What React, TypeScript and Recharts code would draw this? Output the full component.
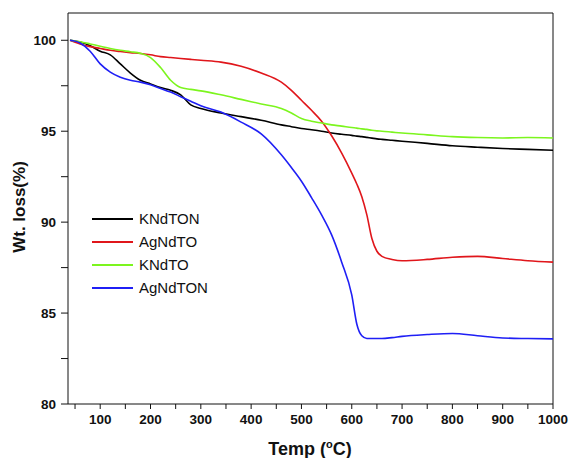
import { LineChart, Line, XAxis, YAxis, ReferenceLine } from "recharts";

// temperature in °C
const temps = [
  40, 60, 80, 100, 120, 140, 160, 180, 200, 220, 240, 260, 280, 300, 340, 380,
  420, 460, 480, 500, 520, 540, 560, 580, 600, 610, 620, 630, 640, 650, 660,
  680, 700, 750, 800, 850, 900, 950, 1000,
];

const kndton = [
  100, 99.9, 99.7, 99.4, 99.2, 98.7, 98.2, 97.8, 97.6, 97.4, 97.25, 97.0, 96.45,
  96.25, 96.0, 95.8, 95.6, 95.35, 95.25, 95.15, 95.08, 95.0, 94.9, 94.83, 94.77,
  94.73, 94.7, 94.66, 94.62, 94.58, 94.55, 94.5, 94.45, 94.33, 94.2, 94.12,
  94.05, 94.0, 93.95,
];

const agndto = [
  100, 99.8, 99.65, 99.55, 99.45, 99.38, 99.32, 99.27, 99.2, 99.1, 99.05, 99.0,
  98.95, 98.9, 98.8, 98.57, 98.2, 97.7, 97.25, 96.7, 96.15, 95.55, 94.75, 93.8,
  92.7, 92.1, 91.4, 90.4, 89.1, 88.4, 88.12, 87.95, 87.88, 87.95, 88.07, 88.12,
  88.0, 87.88, 87.8,
];

const kndto = [
  100, 99.92, 99.8, 99.67, 99.55, 99.45, 99.37, 99.28, 99.05, 98.5, 97.8, 97.4,
  97.3, 97.22, 97.0, 96.75, 96.5, 96.25, 96.0, 95.7, 95.55, 95.45, 95.35, 95.28,
  95.2, 95.17, 95.13, 95.1, 95.05, 95.02, 95.0, 94.95, 94.9, 94.8, 94.7, 94.65,
  94.63, 94.65, 94.63,
];

const agndton = [
  100, 99.85, 99.4, 98.7, 98.25, 97.97, 97.8, 97.7, 97.55, 97.35, 97.15, 96.9,
  96.65, 96.4, 96.05, 95.5, 94.85, 93.7, 93.0, 92.25, 91.35, 90.4, 89.3, 87.8,
  86.0, 84.4, 83.75, 83.6, 83.6, 83.6, 83.6, 83.65, 83.72, 83.82, 83.88, 83.75,
  83.63, 83.6, 83.58,
];

const xTicks = [
  50, 100, 150, 200, 250, 300, 350, 400, 450, 500, 550, 600, 650, 700, 750, 800,
  850, 900, 950, 1000,
];
const yTicks = [80, 82.5, 85, 87.5, 90, 92.5, 95, 97.5, 100];

const series = [
  { key: "kndton", name: "KNdTON", color: "#000000" },
  { key: "agndto", name: "AgNdTO", color: "#e0161b" },
  { key: "kndto", name: "KNdTO", color: "#7cf51e" },
  { key: "agndton", name: "AgNdTON", color: "#1f1ff5" },
];

const data = temps.map((t, i) => ({
  temp: t,
  kndton: kndton[i],
  agndto: agndto[i],
  kndto: kndto[i],
  agndton: agndton[i],
}));

const font = "'Liberation Sans', Arial, sans-serif";

function XTick(props: any) {
  const { x, y, payload } = props;
  if (payload.value % 100 !== 0) return null;
  return (
    <text x={x} y={y} dy={11} textAnchor="middle" fontFamily={font} fontSize={13.5} fontWeight="bold" fill="#111">
      {payload.value}
    </text>
  );
}

function YTick(props: any) {
  const { x, y, payload } = props;
  if (payload.value % 5 !== 0) return null;
  return (
    <text x={x} y={y} dy={5} textAnchor="end" fontFamily={font} fontSize={13.5} fontWeight="bold" fill="#111">
      {payload.value}
    </text>
  );
}

export default function App() {
  return (
    <div style={{ position: "absolute", left: 0, top: 0, width: 570, height: 458, background: "#fff" }}>
      <LineChart width={570} height={458} data={data} margin={{ top: 13, right: 17, bottom: 0, left: 0 }}>
        <XAxis
          dataKey="temp"
          type="number"
          domain={[36, 1000]}
          ticks={xTicks}
          interval={0}
          allowDataOverflow
          stroke="#111"
          tickSize={5}
          tickMargin={4}
          tick={<XTick />}
          height={54}
        />
        <YAxis
          type="number"
          domain={[80, 101.5]}
          ticks={yTicks}
          interval={0}
          allowDataOverflow
          stroke="#111"
          tickSize={7}
          tickMargin={5}
          tick={<YTick />}
          width={68}
        />
        <ReferenceLine y={101.5} stroke="#111" ifOverflow="visible" />
        <ReferenceLine x={1000} stroke="#111" ifOverflow="visible" />
        {series.map((s) => (
          <Line
            key={s.key}
            type="monotone"
            dataKey={s.key}
            name={s.name}
            stroke={s.color}
            strokeWidth={1.6}
            dot={false}
            isAnimationActive={false}
          />
        ))}
        <text
          x={310}
          y={455}
          textAnchor="middle"
          fontFamily={font}
          fontSize={18}
          fontWeight="bold"
          fill="#111"
        >
          Temp (<tspan dy={-7} fontSize={11}>o</tspan>
          <tspan dy={7}>C)</tspan>
        </text>
        <text
          x={25}
          y={207}
          transform="rotate(-90 25 207)"
          textAnchor="middle"
          fontFamily={font}
          fontSize={17}
          fontWeight="bold"
          fill="#111"
        >
          Wt. loss(%)
        </text>
      </LineChart>
      <div style={{ position: "absolute", left: 92, top: 207, fontFamily: font, fontSize: 15, color: "#111" }}>
        {series.map((s) => (
          <div key={s.key} style={{ display: "flex", alignItems: "center", height: 23 }}>
            <div style={{ width: 41, height: 2, background: s.color, marginRight: 6 }} />
            <span>{s.name}</span>
          </div>
        ))}
      </div>
    </div>
  );
}
